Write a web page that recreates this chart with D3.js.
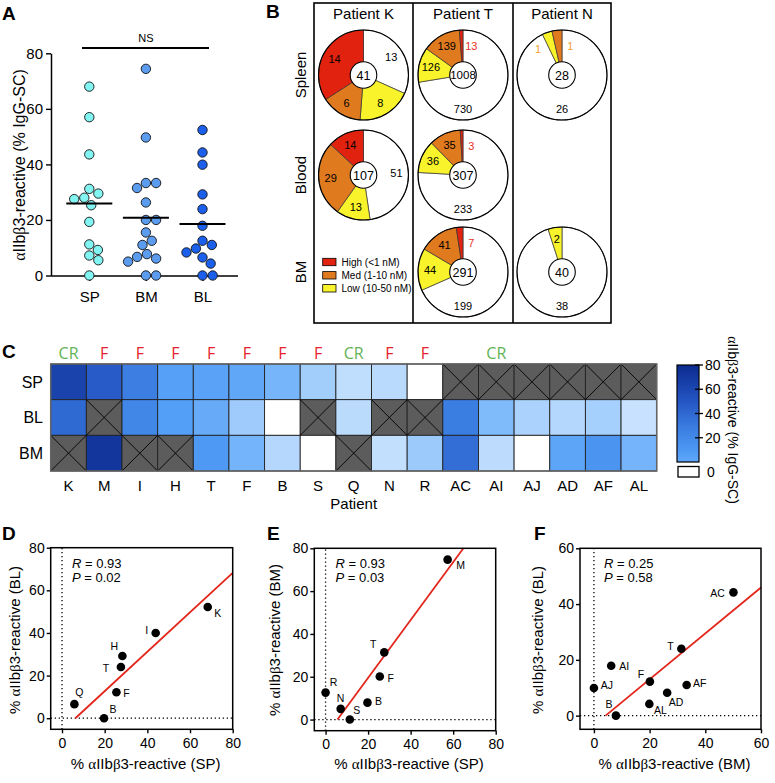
<!DOCTYPE html>
<html>
<head>
<meta charset="utf-8">
<script src="https://cdn.jsdelivr.net/npm/d3@7"></script>
<style>
body { margin: 0; background: #fff; }
svg { font-family: "Liberation Sans", Arial, sans-serif; }
</style>
</head>
<body>
<svg id="fig" width="775" height="783"></svg>
<script>
// ---- data: panel A (% IgG-SC that are aIIbb3-reactive, each dot one patient)
const groupsA = ["SP", "BM", "BL"];
const valsSP = [68, 57, 43.6, 31.2, 29.5, 28, 27.5, 25.3, 19.3, 11.2, 9.2, 7.2, 5.5, 0];
const valsBM = [74.4, 49.7, 33.3, 33.3, 31.5, 26.3, 20, 20, 15.5, 12.5, 11, 7.7, 6.7, 6.1, 5, 0, 0];
const valsBL = [52.4, 44.3, 39.9, 29.2, 23.9, 17.9, 12.5, 11, 9.7, 8.3, 6.5, 4.3, 0, 0];

// ---- data: panel B, counts per slice [none, low, med, high]; null = no sample
const patientsB = ["Patient K", "Patient T", "Patient N"];
const tissuesB = ["Spleen", "Blood", "BM"];
const affinity = ["High (<1 nM)", "Med (1-10 nM)", "Low (10-50 nM)"];
const pieK = [[13, 8, 6, 14], [51, 13, 29, 14], null];
const pieT = [[730, 126, 139, 13], [233, 36, 35, 3], [199, 44, 41, 7]];
const pieN = [[26, 1, 1, 0], null, [38, 2, 0, 0]];

// ---- data: panel C heatmap (null = not available)
const patientsC = ["K", "M", "I", "H", "T", "F", "B", "S", "Q", "N", "R", "AC", "AI", "AJ", "AD", "AF", "AL"];
const outcomeC = ["CR", "F", "F", "F", "F", "F", "F", "F", "CR", "F", "F", "", "CR", "", "", "", ""];
const tissuesC = ["SP", "BL", "BM"];
const heatSP = [68.3, 57.4, 43.9, 28.3, 27.6, 25.5, 19.7, 11.4, 5.8, 7.1, 0, null, null, null, null, null, null];
const heatBL = [52.2, null, 40.0, 29.2, 24.0, 12.2, 0, null, 6.6, null, null, 44.2, 17.9, 9.9, 8.2, 11.0, 4.2];
const heatBM = [null, 74.7, null, null, 31.4, 20.1, 7.9, 0, null, 5.0, 12.6, 50.1, 6.2, 0, 26.3, 33.3, 19.9];
const cbTicks = [0, 20, 40, 60, 80];

// ---- data: panels D-F correlation stats + fitted lines
const statsD = ["0.93", "0.02"], fitD = [0.925, -5.78];
const statsE = ["0.93", "0.03"], fitE = [1.351, -7.57];
const statsF = ["0.25", "0.58"], fitF = [0.823, -3.45];

const svg = d3.select("#fig");
const serif = "'Liberation Serif', 'DejaVu Serif', serif";

// write text with alpha/beta in a serif face (like the Symbol font of the original)
function greek(t, str) {
    str.split(/([αβ])/).forEach(s => {
        if (!s) return;
        const ts = t.append("tspan").text(s);
        if (s === "α" || s === "β") ts.style("font-family", serif);
    });
    return t;
}

function panelLetter(ch, x, y) {
    svg.append("text").attr("x", x).attr("y", y).attr("font-size", 19)
        .attr("font-weight", "bold").attr("font-family", "'Liberation Sans', Arial, sans-serif").text(ch);
}

function styleAxis(g, size) {
    g.attr("font-family", null).attr("font-size", size);
    g.selectAll(".tick line").attr("stroke", "#000").attr("stroke-width", 1.4);
    g.selectAll(".domain").attr("stroke", "#000").attr("stroke-width", 1.5);
    g.selectAll("text").attr("fill", "#000");
}

// =================== panel A ===================
panelLetter("A", 2, 20);
const yA = d3.scaleLinear().domain([0, 80]).range([275.5, 53.3]);
const xA = d3.scalePoint().domain(groupsA).range([89.3, 202.5]);
const fillA = { SP: "#82f4f2", BM: "#5b9cef", BL: "#1c5fea" };

svg.append("g").attr("transform", "translate(51,0)")
    .call(d3.axisLeft(yA).tickValues([0, 20, 40, 60, 80]).tickSize(5).tickSizeOuter(0).tickPadding(3))
    .call(g => styleAxis(g, 15));
svg.append("g").attr("transform", "translate(0,276)")
    .call(d3.axisBottom(xA).tickSize(5).tickPadding(10))
    .call(g => styleAxis(g, 15))
    .call(g => g.select(".domain").remove());
svg.append("line").attr("x1", 51).attr("x2", 238).attr("y1", 276).attr("y2", 276)
    .attr("stroke", "#000").attr("stroke-width", 1.5);

greek(svg.append("text").attr("transform", "translate(25,165) rotate(-90)")
    .attr("text-anchor", "middle").attr("font-size", 16), "αIIbβ3-reactive (% IgG-SC)");

// NS bar
svg.append("line").attr("x1", 82).attr("x2", 209).attr("y1", 48).attr("y2", 48)
    .attr("stroke", "#000").attr("stroke-width", 2);
svg.append("text").attr("x", xA("BM")).attr("y", 42).attr("text-anchor", "middle")
    .attr("font-size", 11).text("NS");

// simple beeswarm so dots do not overlap
function swarm(vals, r) {
    const placed = [];
    vals.map(v => ({ v })).sort((a, b) => b.v - a.v).forEach(p => {
        p.y = yA(p.v);
        const cands = [0];
        placed.forEach(q => {
            const dy = Math.abs(q.y - p.y);
            if (dy < 2 * r) {
                const dx = Math.sqrt(4 * r * r - dy * dy);
                cands.push(q.dx + dx, q.dx - dx);
            }
        });
        cands.sort((a, b) => Math.abs(a) - Math.abs(b));
        p.dx = cands.find(c => placed.every(q => (q.dx - c) ** 2 + (q.y - p.y) ** 2 >= 4 * r * r - 0.01));
        placed.push(p);
    });
    return placed;
}

[["SP", valsSP], ["BM", valsBM], ["BL", valsBL]].forEach(([grp, vals]) => {
    const cx = xA(grp);
    svg.append("g").selectAll("circle")
        .data(swarm(vals, 5.1))
        .enter().append("circle")
        .attr("cx", d => cx + d.dx)
        .attr("cy", d => d.y)
        .attr("r", 4.7)
        .attr("fill", fillA[grp])
        .attr("stroke", "#111").attr("stroke-width", 0.9);
    const m = d3.mean(vals);
    svg.append("line").attr("x1", cx - 23).attr("x2", cx + 23)
        .attr("y1", yA(m)).attr("y2", yA(m))
        .attr("stroke", "#000").attr("stroke-width", 2);
});

// =================== panel B ===================
panelLetter("B", 266, 18);
const colEdges = [314, 413, 513, 611];
const rowY = [75, 175, 272];
const pieFill = ["#ffffff", "#f8f32a", "#e07a1f", "#e1220f"];
const smallTxt = ["#000", "#f0a030", "#f0a030", "#e8302a"];
const rOut = 45, rIn = 13.3, rLab = 33;

svg.append("rect").attr("x", colEdges[0]).attr("y", 3)
    .attr("width", colEdges[3] - colEdges[0]).attr("height", 320)
    .attr("fill", "none").attr("stroke", "#000").attr("stroke-width", 1.6);
[1, 2].forEach(i => svg.append("line").attr("x1", colEdges[i]).attr("x2", colEdges[i])
    .attr("y1", 3).attr("y2", 323).attr("stroke", "#000").attr("stroke-width", 1.6));

tissuesB.forEach((t, i) => {
    svg.append("text").attr("transform", `translate(306,${rowY[i]}) rotate(-90)`)
        .attr("text-anchor", "middle").attr("font-size", 15).text(t);
});

const pie = d3.pie().sort(null).value(d => d);
const arc = d3.arc().innerRadius(0).outerRadius(rOut);
[pieK, pieT, pieN].forEach((col, c) => {
    const cx = (colEdges[c] + colEdges[c + 1]) / 2;
    svg.append("text").attr("x", cx).attr("y", 19).attr("text-anchor", "middle")
        .attr("font-size", 15).text(patientsB[c]);
    col.forEach((counts, r) => {
        if (!counts) return;
        const total = d3.sum(counts);
        const g = svg.append("g").attr("transform", `translate(${cx},${rowY[r]})`);
        const arcs = pie(counts);
        g.selectAll("path").data(arcs.filter(d => d.value > 0)).enter().append("path")
            .attr("d", arc)
            .attr("fill", d => pieFill[d.index])
            .attr("stroke", "#333").attr("stroke-width", 0.7);
        g.append("circle").attr("r", rOut).attr("fill", "none").attr("stroke", "#000").attr("stroke-width", 1.1);
        g.append("circle").attr("r", rIn).attr("fill", "#fff").attr("stroke", "#000").attr("stroke-width", 1.1);
        g.append("text").attr("dy", "0.36em").attr("text-anchor", "middle")
            .attr("font-size", total > 999 ? 11.5 : 12.5).text(total);

        // slice labels: big slices at centroid, tiny slices next to 12 o'clock
        const small = arcs.filter(d => d.value > 0 && d.value / total < 0.05)
            .sort((a, b) => b.endAngle - a.endAngle);
        arcs.forEach(d => {
            if (d.value <= 0) return;
            const frac = d.value / total;
            let a, rr, color = "#000";
            if (frac >= 0.05) {
                a = (d.index === 0 && frac > 0.6) ? Math.PI : (d.startAngle + d.endAngle) / 2;
                rr = (d.index === 0 && frac > 0.6) ? 34 : rLab;
            } else {
                const k = small.indexOf(d);
                a = k === 0 ? 0.28 : -0.75;
                rr = k === 0 ? 30 : 35;
                color = smallTxt[d.index];
            }
            g.append("text").attr("x", Math.sin(a) * rr).attr("y", -Math.cos(a) * rr)
                .attr("dy", "0.36em").attr("text-anchor", "middle")
                .attr("font-size", 11).attr("fill", color).text(d.value);
        });
    });
});

// legend
const legY = [262, 275.3, 288.3];
affinity.forEach((lab, i) => {
    svg.append("rect").attr("x", 322.7).attr("y", legY[i] - 3.7).attr("width", 13.3).attr("height", 7.4)
        .attr("fill", pieFill[3 - i]).attr("stroke", "#000").attr("stroke-width", 0.8);
    svg.append("text").attr("x", 341.5).attr("y", legY[i]).attr("dy", "0.35em")
        .attr("font-size", 10).text(lab);
});

// =================== panel C ===================
panelLetter("C", 2, 358);
const xC = d3.scaleBand().domain(patientsC).range([50.7, 656.7]);
const yC = d3.scaleBand().domain(tissuesC).range([364, 471]);
const heatColor = d3.scaleLinear()
    .domain([0.01, 10, 20, 30, 45, 60, 80])
    .range(["#dcecff", "#aad2fc", "#74b4fa", "#509cf6", "#3a7ce0", "#2454c2", "#0b2b8e"])
    .clamp(true);

const rowsC = [heatSP, heatBL, heatBM];
const cells = [];
rowsC.forEach((vals, r) => vals.forEach((v, c) => cells.push({ t: tissuesC[r], p: patientsC[c], v })));

const gC = svg.append("g");
gC.selectAll("rect").data(cells).enter().append("rect")
    .attr("x", d => xC(d.p)).attr("y", d => yC(d.t))
    .attr("width", xC.bandwidth()).attr("height", yC.bandwidth())
    .attr("fill", d => d.v == null ? "#5c5c5c" : (d.v === 0 ? "#fff" : heatColor(d.v)))
    .attr("stroke", "#222").attr("stroke-width", 0.9);
cells.filter(d => d.v == null).forEach(d => {
    const x0 = xC(d.p), y0 = yC(d.t), w = xC.bandwidth(), h = yC.bandwidth();
    gC.append("path").attr("d", `M${x0},${y0}L${x0 + w},${y0 + h}M${x0 + w},${y0}L${x0},${y0 + h}`)
        .attr("stroke", "#000").attr("stroke-width", 0.9);
});
gC.append("rect").attr("x", 50.7).attr("y", 364).attr("width", 606).attr("height", 107)
    .attr("fill", "none").attr("stroke", "#666").attr("stroke-width", 1.5);

outcomeC.forEach((o, i) => {
    if (!o) return;
    svg.append("text").attr("x", xC(patientsC[i]) + xC.bandwidth() / 2).attr("y", 359)
        .attr("text-anchor", "middle").attr("font-size", 16)
        .attr("font-family", "'Open Sans', sans-serif")
        .attr("fill", o === "CR" ? "#62b356" : "#e6212b").text(o);
});
patientsC.forEach(p => svg.append("text").attr("x", xC(p) + xC.bandwidth() / 2).attr("y", 491)
    .attr("text-anchor", "middle").attr("font-size", 15).text(p));
tissuesC.forEach(t => svg.append("text").attr("x", 43).attr("y", yC(t) + yC.bandwidth() / 2)
    .attr("dy", "0.36em").attr("text-anchor", "end").attr("font-size", 16).text(t));
svg.append("text").attr("x", 353.7).attr("y", 509).attr("text-anchor", "middle")
    .attr("font-size", 15).text("Patient");

// colour bar (the original bar starts at a mid blue, not at the palest cell colour)
const cbY = d3.scaleLinear().domain([0, 80]).range([462, 365]);
const cbShade = d3.scaleLinear().domain([0, 80]).range([25, 80]);
const grad = svg.append("defs").append("linearGradient").attr("id", "cb")
    .attr("x1", 0).attr("x2", 0).attr("y1", 1).attr("y2", 0);
d3.range(0, 81, 5).forEach(v => grad.append("stop").attr("offset", v / 80).attr("stop-color", heatColor(cbShade(v))));
svg.append("rect").attr("x", 677).attr("y", 365).attr("width", 22).attr("height", 97)
    .attr("fill", "url(#cb)").attr("stroke", "#000").attr("stroke-width", 1.2);
cbTicks.filter(v => v > 0).forEach(v => {
    svg.append("line").attr("x1", 695).attr("x2", 703).attr("y1", cbY(v)).attr("y2", cbY(v))
        .attr("stroke", "#000").attr("stroke-width", 1.3);
    svg.append("text").attr("x", 705).attr("y", cbY(v)).attr("dy", "0.36em")
        .attr("font-size", 14).text(v);
});
svg.append("rect").attr("x", 678).attr("y", 466.5).attr("width", 21).attr("height", 10.5)
    .attr("fill", "#fff").attr("stroke", "#000").attr("stroke-width", 1.3);
svg.append("text").attr("x", 707).attr("y", 472).attr("dy", "0.36em").attr("font-size", 14).text(cbTicks[0]);
greek(svg.append("text").attr("transform", "translate(728,420) rotate(90)")
    .attr("text-anchor", "middle").attr("font-size", 14), "αIIbβ3-reactive (% IgG-SC)");

// =================== panels D-F ===================
function scatter(o) {
    panelLetter(o.letter, o.letterX, 540);
    const x = d3.scaleLinear().domain(o.xDom).range(o.xRange);
    const y = d3.scaleLinear().domain(o.yDom).range(o.yRange);
    const g = svg.append("g");
    const pts = patientsC.map((p, i) => ({ name: p, x: o.xs[i], y: o.ys[i] }))
        .filter(d => d.x != null && d.y != null);

    // dotted zero lines
    g.append("line").attr("x1", x(0)).attr("x2", x(0)).attr("y1", o.yRange[0]).attr("y2", o.yRange[1])
        .attr("stroke", "#000").attr("stroke-width", 1.3).attr("stroke-dasharray", "1.3,2.7");
    g.append("line").attr("x1", o.xRange[0]).attr("x2", o.xRange[1]).attr("y1", y(0)).attr("y2", y(0))
        .attr("stroke", "#000").attr("stroke-width", 1.3).attr("stroke-dasharray", "1.3,2.7");

    // fit line from y=0 until it leaves the frame
    const [m, b] = o.fit;
    const xs = -b / m;
    const xe = Math.min(o.xDom[1], (o.yDom[1] - b) / m);
    g.append("line").attr("x1", x(xs)).attr("y1", y(0)).attr("x2", x(xe)).attr("y2", y(m * xe + b))
        .attr("stroke", "#e3261b").attr("stroke-width", 1.8);

    g.selectAll("circle").data(pts).enter().append("circle")
        .attr("cx", d => x(d.x)).attr("cy", d => y(d.y)).attr("r", 4.3).attr("fill", "#000");
    g.selectAll("text.lab").data(pts).enter().append("text").attr("class", "lab")
        .attr("x", d => x(d.x) + o.lab[d.name][0]).attr("y", d => y(d.y) + o.lab[d.name][1])
        .attr("dy", "0.36em").attr("text-anchor", "middle").attr("font-size", 10.5).text(d => d.name);

    g.append("rect").attr("x", o.xRange[0]).attr("y", o.yRange[1])
        .attr("width", o.xRange[1] - o.xRange[0]).attr("height", o.yRange[0] - o.yRange[1])
        .attr("fill", "none").attr("stroke", "#000").attr("stroke-width", 1.5);

    svg.append("g").attr("transform", `translate(${o.xRange[0]},0)`)
        .call(d3.axisLeft(y).tickValues(o.ticks).tickSize(4).tickSizeOuter(0).tickPadding(2))
        .call(a => styleAxis(a, 14)).call(a => a.select(".domain").remove());
    svg.append("g").attr("transform", `translate(0,${o.yRange[0]})`)
        .call(d3.axisBottom(x).tickValues(o.ticks).tickSize(4).tickSizeOuter(0).tickPadding(4.5))
        .call(a => styleAxis(a, 14)).call(a => a.select(".domain").remove());

    const tx = x(0) + 10;
    const st = g.append("text").attr("x", tx).attr("y", 568).attr("font-size", 13);
    st.append("tspan").attr("font-style", "italic").text("R");
    st.append("tspan").text(" = " + o.stats[0]);
    const sp = g.append("text").attr("x", tx).attr("y", 582).attr("font-size", 13);
    sp.append("tspan").attr("font-style", "italic").text("P");
    sp.append("tspan").text(" = " + o.stats[1]);

    greek(svg.append("text").attr("x", (o.xRange[0] + o.xRange[1]) / 2 + 4).attr("y", 769)
        .attr("text-anchor", "middle").attr("font-size", 15), o.xTitle);
    greek(svg.append("text").attr("transform", `translate(${o.yTitleX},640) rotate(-90)`)
        .attr("text-anchor", "middle").attr("font-size", 15), o.yTitle);
}

scatter({
    letter: "D", letterX: 2,
    xs: heatSP, ys: heatBL, fit: fitD, stats: statsD,
    xDom: [-5.3, 80], yDom: [-5.2, 80], xRange: [50.7, 232.7], yRange: [729.3, 547.7],
    ticks: [0, 20, 40, 60, 80],
    xTitle: "% αIIbβ3-reactive (SP)", yTitle: "% αIIbβ3-reactive (BL)", yTitleX: 20,
    lab: { K: [10, 6], I: [-9, -3], H: [-8, -10], T: [-15, 1], F: [10, 1], Q: [5, -12], B: [9, -9] }
});
scatter({
    letter: "E", letterX: 267,
    xs: heatSP, ys: heatBM, fit: fitE, stats: statsE,
    xDom: [-5.3, 80], yDom: [-5.2, 80], xRange: [314.3, 495.7], yRange: [730.7, 548.3],
    ticks: [0, 20, 40, 60, 80],
    xTitle: "% αIIbβ3-reactive (SP)", yTitle: "% αIIbβ3-reactive (BM)", yTitleX: 280,
    lab: { M: [13, 6], T: [-11, -8], F: [11, 2], R: [8, -10], N: [0, -11], B: [11, -1], S: [7, -9] }
});
scatter({
    letter: "F", letterX: 534,
    xs: heatBM, ys: heatBL, fit: fitF, stats: statsF,
    xDom: [-5, 60], yDom: [-4.9, 60], xRange: [580, 761], yRange: [729.3, 548.3],
    ticks: [0, 20, 40, 60],
    xTitle: "% αIIbβ3-reactive (BM)", yTitle: "% αIIbβ3-reactive (BL)", yTitleX: 543,
    lab: { AC: [-16, 1], T: [-11, -2], AI: [13, 1], F: [-9, -7], AJ: [13, -3], AF: [13, -2],
           AD: [9, 9], AL: [11, 6], B: [-7, -11] }
});
</script>
</body>
</html>
